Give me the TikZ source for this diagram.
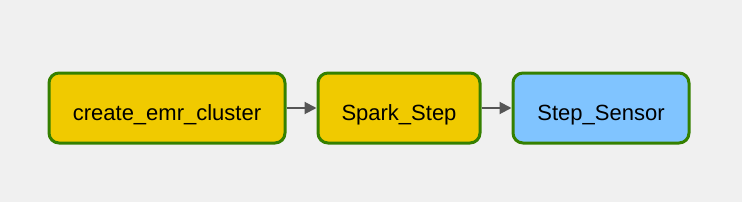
\documentclass[tikz,border=0pt]{standalone}
\usepackage{fontspec}
\setmainfont{Liberation Sans}
\usetikzlibrary{positioning,arrows.meta}
\definecolor{bgray}{HTML}{F0F0F0}
\definecolor{taskyellow}{HTML}{F0CA00}
\definecolor{taskblue}{HTML}{80C4FF}
\definecolor{okgreen}{HTML}{358000}
\definecolor{edgegray}{HTML}{555555}
\begin{document}
\begin{tikzpicture}[x=1pt, y=1pt,
  task/.style={rectangle, rounded corners=10pt, draw=okgreen, line width=3pt, minimum height=70pt, inner sep=0pt, text height=24pt, text depth=0pt, font=\fontsize{22}{26}\selectfont},
  yellowtask/.style={task, fill=taskyellow},
  bluetask/.style={task, fill=taskblue},
  flow/.style={draw=edgegray, line width=2pt, -{Triangle[length=12pt, width=12pt]}}
]
\fill[bgray] (0,0) rectangle (742,202);
\useasboundingbox (0,0) rectangle (742,202);

\node[yellowtask, minimum width=236pt] (cluster) at (167, 94) {create\_emr\_cluster};
\node[yellowtask, minimum width=162pt] (spark) at (399, 94) {Spark\_Step};
\node[bluetask, minimum width=176pt] (sensor) at (601, 94) {Step\_Sensor};
\draw[flow] (cluster) -- (spark);
\draw[flow] (spark) -- (sensor);

\end{tikzpicture}
\end{document}
